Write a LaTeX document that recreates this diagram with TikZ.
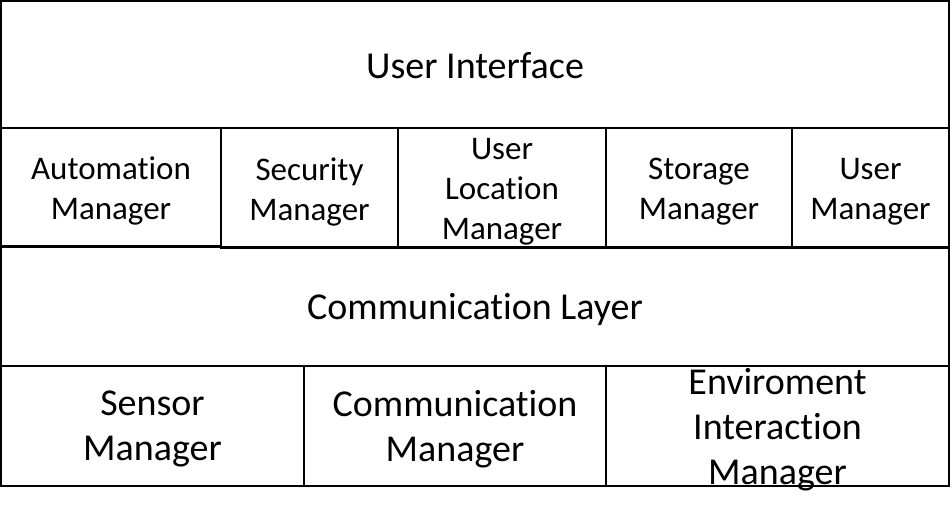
\documentclass[tikz,border=0pt]{standalone}
\usepackage{fontspec}
\setmainfont{Carlito}[Ligatures=NoCommon]

\tikzset{
    frame/.style={draw, line width=1.5pt, inner sep=0pt},
    layer/.style={inner sep=0pt, align=center, font=\fontsize{38}{45}\selectfont},
    module/.style={inner sep=0pt, align=center, font=\fontsize{33}{40}\selectfont},
}

\begin{document}
\begin{tikzpicture}[x=1pt, y=-1pt]
    \useasboundingbox (0,0) rectangle (952,517);

    % top layer
    \node[frame, minimum width=948pt, minimum height=127pt] (ui) at (475,64.5) {};
    \node[layer] (ui text) at ([yshift=-1pt]ui.center) {User Interface};

    % managers
    \node[frame, minimum width=220pt, minimum height=117.5pt] (automation) at (111,186.75) {};
    \node[frame, minimum width=177pt, minimum height=120pt] (security) at (309.5,188) {};
    \node[frame, minimum width=208pt, minimum height=120pt] (location) at (502,188) {};
    \node[frame, minimum width=186pt, minimum height=120pt] (storage) at (699,188) {};
    \node[frame, minimum width=157pt, minimum height=120pt] (user) at (870.5,188) {};
    \node[module] (automation text) at ([yshift=-4pt]automation.center) {Automation\\Manager};
    \node[module] (security text) at ([yshift=-4pt]security.center) {Security\\Manager};
    \node[module] (location text) at ([yshift=-4pt]location.center) {User\\Location\\Manager};
    \node[module] (storage text) at ([yshift=-4pt]storage.center) {Storage\\Manager};
    \node[module] (user text) at ([yshift=-4pt]user.center) {User\\Manager};

    % communication layer
    \node[frame, minimum width=948pt, minimum height=119pt] (commlayer) at (475,306.5) {};
    \node[layer] (commlayer text) at ([yshift=-3pt]commlayer.center) {Communication Layer};

    % bottom layer
    \node[frame, minimum width=303pt, minimum height=120pt] (sensor) at (152.5,426) {};
    \node[frame, minimum width=302pt, minimum height=120pt] (communication) at (455,426) {};
    \node[frame, minimum width=343pt, minimum height=120pt] (environment) at (777.5,426) {};
    \node[layer] (sensor text) at ([yshift=-3pt]sensor.center) {Sensor\\Manager};
    \node[layer] (communication text) at ([yshift=-3pt]communication.center) {Communication\\Manager};
    \node[layer] (environment text) at ([yshift=-4pt]environment.center) {Enviroment\\Interaction\\Manager};
\end{tikzpicture}
\end{document}
